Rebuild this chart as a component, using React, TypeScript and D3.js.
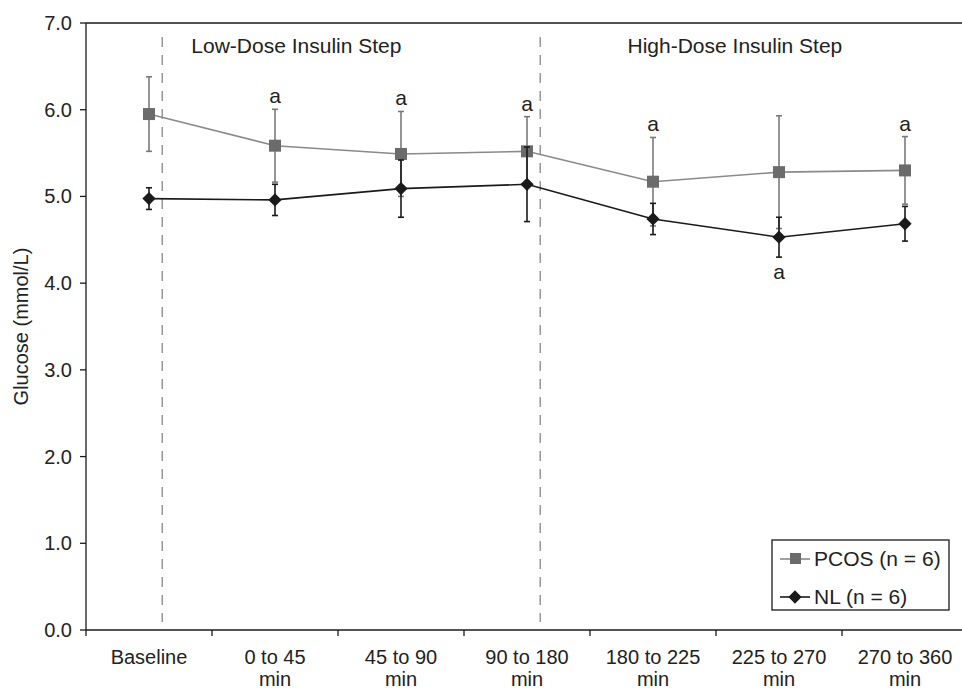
import React from 'react';
import * as d3 from 'd3';

const categories = ['Baseline', '0 to 45 min', '45 to 90 min', '90 to 180 min', '180 to 225 min', '225 to 270 min', '270 to 360 min'];
const tickLines = [['Baseline'], ['0 to 45', 'min'], ['45 to 90', 'min'], ['90 to 180', 'min'], ['180 to 225', 'min'], ['225 to 270', 'min'], ['270 to 360', 'min']];

const pcosMean = [5.95, 5.585, 5.49, 5.52, 5.17, 5.28, 5.30];
const pcosSd = [0.43, 0.42, 0.49, 0.40, 0.51, 0.65, 0.39];
const nlMean = [4.975, 4.96, 5.09, 5.14, 4.74, 4.53, 4.685];
const nlSd = [0.125, 0.18, 0.33, 0.43, 0.18, 0.23, 0.20];

// significance markers: 'above' PCOS bar, 'below' NL bar
const sigAbove = [false, true, true, true, true, false, true];
const sigBelow = [false, false, false, false, false, true, false];

const yTicks = [0, 1, 2, 3, 4, 5, 6, 7];
const phases = [
  { label: 'Low-Dose Insulin Step', after: 'Baseline', at: '0 to 45 min', shift: 0.67 },
  { label: 'High-Dose Insulin Step', after: '90 to 180 min', at: '225 to 270 min', shift: 0.15 },
];

const FONT = '"Liberation Sans", Arial, Helvetica, sans-serif';
const GRAY_LINE = '#8a8a8a';
const GRAY_MARK = '#6b6b6b';
const DARK = '#1a1a1a';

export default function App() {
  const width = 962;
  const height = 691;
  const left = 86, top = 23, bottom = 630;

  const x = d3.scaleBand<string>().domain(categories).range([left, 968]).padding(0);
  const bw = x.bandwidth();
  const cx = (c: string) => (x(c) as number) + bw / 2;
  const y = d3.scaleLinear().domain([0, 7]).range([bottom, top]);

  const pcos = categories.map((c, i) => ({ c, m: pcosMean[i], s: pcosSd[i] }));
  const nl = categories.map((c, i) => ({ c, m: nlMean[i], s: nlSd[i] }));

  const line = d3.line<{ c: string; m: number }>().x(d => cx(d.c)).y(d => y(d.m));
  // a square turned 45 degrees, as in the original figure
  const diamond = d3.symbol().type(d3.symbolSquare).size(88)();

  const errBars = (data: typeof pcos, color: string) =>
    data.map(d => (
      <g key={d.c} stroke={color} strokeWidth={1.6}>
        <line x1={cx(d.c)} x2={cx(d.c)} y1={y(d.m + d.s)} y2={y(d.m - d.s)} />
        <line x1={cx(d.c) - 3} x2={cx(d.c) + 3} y1={y(d.m + d.s)} y2={y(d.m + d.s)} />
        <line x1={cx(d.c) - 3} x2={cx(d.c) + 3} y1={y(d.m - d.s)} y2={y(d.m - d.s)} />
      </g>
    ));

  return (
    <svg width={width} height={height} style={{ position: 'absolute', left: 0, top: 0 }} fontFamily={FONT}>
      <rect width={width} height={height} fill="#fff" />

      {/* frame */}
      <line x1={left} x2={width} y1={top} y2={top} stroke={DARK} strokeWidth={1.3} />
      <line x1={left} x2={left} y1={top} y2={bottom} stroke={DARK} strokeWidth={1.3} />
      <line x1={left} x2={width} y1={bottom} y2={bottom} stroke={DARK} strokeWidth={1.3} />

      {/* y axis */}
      {yTicks.map(t => (
        <g key={t}>
          <line x1={left - 6} x2={left} y1={y(t)} y2={y(t)} stroke={DARK} strokeWidth={1.3} />
          <text x={72} y={y(t)} dy="0.35em" textAnchor="end" fontSize={20} fill="#222">{t.toFixed(1)}</text>
        </g>
      ))}
      <text transform={`translate(28,${(top + bottom) / 2}) rotate(-90)`} textAnchor="middle" fontSize={20} fill="#222">
        Glucose (mmol/L)
      </text>

      {/* x axis */}
      {categories.map((c, i) => (
        <g key={c}>
          <line x1={x(c) as number} x2={x(c) as number} y1={bottom} y2={bottom + 6} stroke={DARK} strokeWidth={1.3} />
          {tickLines[i].map((t, j) => (
            <text key={j} x={cx(c)} y={664 + j * 22} textAnchor="middle" fontSize={20} fill="#222">{t}</text>
          ))}
        </g>
      ))}

      {/* phase dividers */}
      {phases.map(p => {
        const dx = cx(p.after) + bw * 0.105;
        return (
          <g key={p.label}>
            <line x1={dx} x2={dx} y1={37} y2={622} stroke="#888" strokeWidth={1.3} strokeDasharray="10,8" />
            <text x={(x(p.at) as number) + bw * p.shift} y={53} textAnchor="middle" fontSize={21} fill="#222">{p.label}</text>
          </g>
        );
      })}

      {/* PCOS */}
      <path d={line(pcos) as string} fill="none" stroke={GRAY_LINE} strokeWidth={1.6} />
      {errBars(pcos, '#7a7a7a')}
      {pcos.map(d => (
        <rect key={d.c} x={cx(d.c) - 6} y={y(d.m) - 6} width={12} height={12} fill={GRAY_MARK} />
      ))}

      {/* NL */}
      <path d={line(nl) as string} fill="none" stroke={DARK} strokeWidth={1.6} />
      {errBars(nl, DARK)}
      {nl.map(d => (
        <path key={d.c} d={diamond as string} transform={`translate(${cx(d.c)},${y(d.m)}) rotate(45)`} fill={DARK} />
      ))}

      {/* significance */}
      {pcos.map((d, i) => sigAbove[i] ? (
        <text key={'a' + d.c} x={cx(d.c)} y={y(d.m + d.s) - 6} textAnchor="middle" fontSize={21} fill="#222">a</text>
      ) : null)}
      {nl.map((d, i) => sigBelow[i] ? (
        <text key={'b' + d.c} x={cx(d.c)} y={y(d.m - d.s) + 22} textAnchor="middle" fontSize={21} fill="#222">a</text>
      ) : null)}

      {/* legend */}
      <g>
        <rect x={772} y={540} width={177} height={70} fill="#fff" stroke={DARK} strokeWidth={1.3} />
        <line x1={780} x2={810} y1={559} y2={559} stroke={GRAY_LINE} strokeWidth={1.6} />
        <rect x={790} y={553} width={11} height={11} fill={GRAY_MARK} />
        <text x={814} y={559} dy="0.35em" fontSize={21} fill="#222">PCOS (n = 6)</text>
        <line x1={780} x2={810} y1={597} y2={597} stroke={DARK} strokeWidth={1.6} />
        <path d={diamond as string} transform={`translate(795,597) rotate(45)`} fill={DARK} />
        <text x={814} y={597} dy="0.35em" fontSize={21} fill="#222">NL (n = 6)</text>
      </g>
    </svg>
  );
}
